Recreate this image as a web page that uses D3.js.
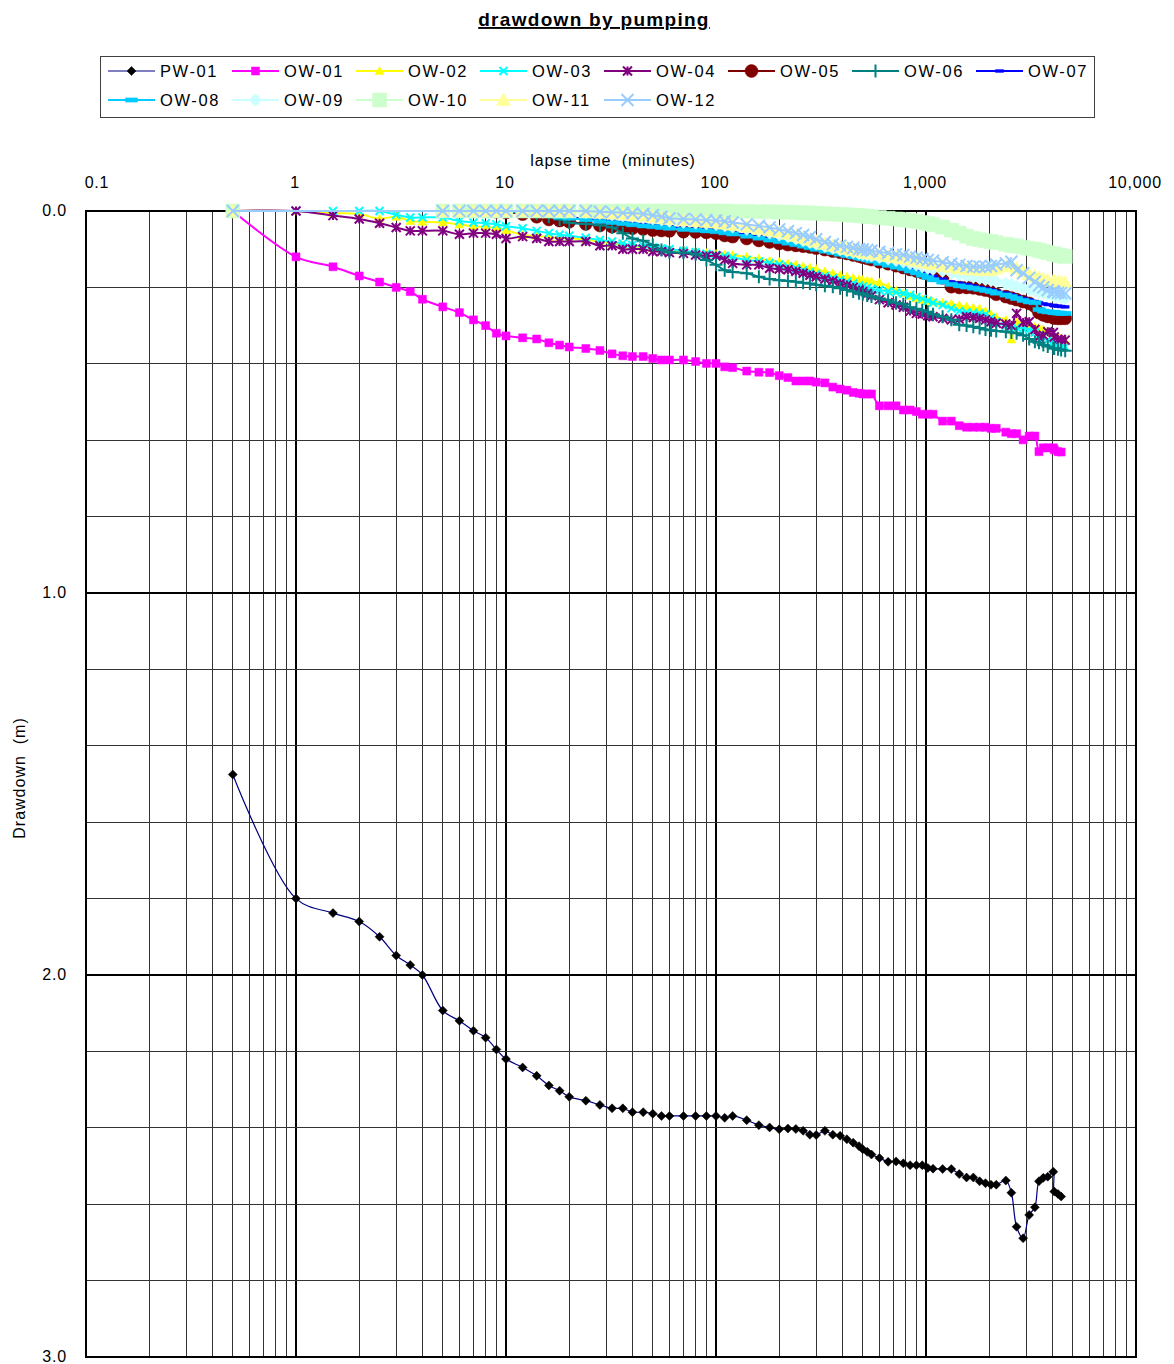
<!DOCTYPE html>
<html>
<head>
<meta charset="utf-8">
<script src="https://cdn.jsdelivr.net/npm/d3@7"></script>
<style>
  body { margin: 0; background: #fff; }
  svg text { font-family: "Liberation Sans", Arial, sans-serif; fill: #000; white-space: pre; }
</style>
</head>
<body>
<div id="chart"></div>
<script>
// lapse times (minutes), shared by all wells
const times = [
  0.5, 1, 1.5, 2, 2.5, 3, 3.5, 4, 5, 6,
  7, 8, 9, 10, 12, 14, 16, 18, 20, 24,
  28, 32, 36, 40, 45, 50, 55, 60, 70, 80,
  90, 100, 110, 120, 140, 160, 180, 200, 220, 240,
  260, 280, 300, 330, 360, 390, 420, 450, 480, 500,
  525, 550, 600, 660, 720, 780, 840, 900, 960, 1020,
  1080, 1200, 1320, 1440, 1560, 1680, 1800, 1920, 2040, 2160,
  2400, 2550, 2700, 2900, 3100, 3300, 3450, 3620, 3800, 4040,
  4080, 4250, 4400, 4600
];

// drawdown (m) per well, null = not measured
const pw01 = [
  1.475, 1.800, 1.838, 1.860, 1.900, 1.949, 1.974, 2.000, 2.093, 2.120,
  2.146, 2.164, 2.195, 2.220, 2.242, 2.264, 2.289, 2.303, 2.319, 2.329,
  2.340, 2.349, 2.349, 2.359, 2.359, 2.363, 2.369, 2.369, 2.369, 2.369,
  2.369, 2.369, 2.374, 2.369, 2.380, 2.393, 2.399, 2.404, 2.402, 2.403,
  2.408, 2.418, 2.419, 2.408, 2.418, 2.421, 2.430, 2.439, 2.448, 2.456,
  2.463, 2.470, 2.479, 2.489, 2.488, 2.493, 2.498, 2.498, 2.498, 2.505,
  2.507, 2.508, 2.508, 2.521, 2.530, 2.530, 2.540, 2.545, 2.549, 2.549,
  2.538, 2.570, 2.659, 2.689, 2.628, 2.608, 2.540, 2.531, 2.528, 2.515,
  2.567, 2.573, 2.580, null
];
const ow01 = [
  0.000, 0.120, 0.146, 0.170, 0.186, 0.200, 0.211, 0.231, 0.251, 0.266,
  0.285, 0.300, 0.320, 0.327, 0.332, 0.335, 0.345, 0.351, 0.356, 0.360,
  0.365, 0.374, 0.379, 0.381, 0.381, 0.386, 0.390, 0.390, 0.390, 0.394,
  0.399, 0.399, 0.408, 0.410, 0.419, 0.422, 0.423, 0.431, 0.436, 0.445,
  0.445, 0.445, 0.448, 0.450, 0.461, 0.466, 0.469, 0.475, 0.477, 0.479,
  0.479, 0.479, 0.510, 0.510, 0.510, 0.521, 0.521, 0.525, 0.532, 0.532,
  0.532, 0.550, 0.550, 0.562, 0.566, 0.566, 0.566, 0.566, 0.569, 0.569,
  0.579, 0.583, 0.583, 0.599, 0.589, 0.589, 0.630, 0.620, 0.620, 0.620,
  0.625, 0.630, 0.631, null
];
const ow02 = [
  0.000, 0.000, 0.005, 0.008, 0.020, 0.015, 0.026, 0.028, 0.030, 0.035,
  0.040, 0.042, 0.045, 0.050, 0.063, 0.065, 0.068, 0.070, 0.072, 0.075,
  0.080, 0.085, 0.090, 0.092, 0.095, 0.098, 0.100, 0.102, 0.105, 0.108,
  0.110, 0.112, 0.114, 0.115, 0.120, 0.125, 0.130, 0.133, 0.137, 0.140,
  0.145, 0.148, 0.152, 0.158, 0.163, 0.168, 0.172, 0.175, 0.178, 0.180,
  0.182, 0.184, 0.187, 0.198, 0.208, 0.215, 0.222, 0.228, 0.232, 0.235,
  0.237, 0.240, 0.243, 0.247, 0.250, 0.253, 0.255, 0.262, 0.270, 0.278,
  0.285, 0.336, 0.290, 0.296, 0.300, 0.303, 0.306, 0.310, 0.316, 0.320,
  0.325, 0.330, 0.333, 0.338
];
const ow03 = [
  0.000, 0.000, 0.000, 0.000, 0.000, 0.010, 0.017, 0.017, 0.017, 0.026,
  0.030, 0.032, 0.035, 0.040, 0.045, 0.052, 0.058, 0.062, 0.065, 0.070,
  0.076, 0.080, 0.085, 0.089, 0.092, 0.095, 0.098, 0.100, 0.104, 0.108,
  0.112, 0.115, 0.118, 0.122, 0.128, 0.132, 0.136, 0.140, 0.145, 0.150,
  0.155, 0.160, 0.165, 0.170, 0.176, 0.180, 0.185, 0.190, 0.195, 0.198,
  0.201, 0.204, 0.207, 0.210, 0.213, 0.216, 0.220, 0.225, 0.230, 0.235,
  0.240, 0.246, 0.255, 0.262, 0.265, 0.267, 0.268, 0.270, 0.280, 0.290,
  0.300, 0.303, 0.305, 0.308, 0.311, 0.318, 0.325, 0.330, 0.338, 0.342,
  0.346, 0.350, 0.353, 0.355
];
const ow04 = [
  0.000, 0.000, 0.012, 0.021, 0.032, 0.043, 0.052, 0.052, 0.052, 0.061,
  0.058, 0.058, 0.061, 0.072, 0.067, 0.072, 0.080, 0.080, 0.080, 0.080,
  0.091, 0.091, 0.100, 0.100, 0.100, 0.106, 0.106, 0.109, 0.111, 0.115,
  0.118, 0.118, 0.128, 0.137, 0.141, 0.141, 0.150, 0.152, 0.154, 0.158,
  0.163, 0.168, 0.172, 0.178, 0.183, 0.190, 0.194, 0.200, 0.207, 0.211,
  0.216, 0.222, 0.232, 0.240, 0.246, 0.252, 0.262, 0.268, 0.270, 0.274,
  0.277, 0.281, 0.285, 0.283, 0.277, 0.279, 0.281, 0.285, 0.290, 0.294,
  0.296, 0.300, 0.268, 0.292, 0.290, 0.310, 0.330, 0.325, 0.316, 0.318,
  0.330, 0.336, 0.336, 0.338
];
const ow05 = [
  0.000, null, null, null, null, null, null, null, 0.000, 0.000,
  0.000, 0.000, 0.002, 0.004, 0.008, 0.015, 0.022, 0.025, 0.028, 0.034,
  0.038, 0.041, 0.043, 0.045, 0.047, 0.050, 0.051, 0.052, 0.054, 0.055,
  0.056, 0.058, 0.064, 0.067, 0.072, 0.077, 0.081, 0.085, 0.088, 0.090,
  0.092, 0.094, 0.097, 0.101, 0.105, 0.108, 0.111, 0.115, 0.118, 0.121,
  0.124, 0.127, 0.133, 0.138, 0.143, 0.148, 0.153, 0.157, 0.161, 0.165,
  0.168, 0.175, 0.198, 0.200, 0.200, 0.201, 0.204, 0.207, 0.210, 0.218,
  0.224, 0.228, 0.232, 0.237, 0.242, 0.250, 0.266, 0.272, 0.276, 0.279,
  0.280, 0.281, 0.281, 0.281
];
const ow06 = [
  0.000, null, null, null, null, null, null, null, 0.000, 0.000,
  0.000, 0.000, 0.000, 0.000, 0.002, 0.008, 0.015, 0.022, 0.031, 0.034,
  0.037, 0.043, 0.058, 0.072, 0.078, 0.089, 0.102, 0.108, 0.109, 0.113,
  0.128, 0.141, 0.155, 0.160, 0.163, 0.172, 0.178, 0.181, 0.183, 0.185,
  0.188, 0.190, 0.193, 0.196, 0.198, 0.202, 0.207, 0.211, 0.215, 0.218,
  0.221, 0.224, 0.229, 0.233, 0.240, 0.244, 0.252, 0.256, 0.260, 0.264,
  0.270, 0.277, 0.285, 0.298, 0.300, 0.303, 0.306, 0.310, 0.312, 0.314,
  0.316, 0.318, 0.320, 0.325, 0.335, 0.342, 0.345, 0.351, 0.355, 0.359,
  0.360, 0.362, 0.364, 0.366
];
const ow07 = [
  0.000, null, null, null, null, null, null, null, 0.000, 0.000,
  0.000, 0.000, 0.000, 0.000, 0.003, 0.006, 0.010, 0.013, 0.016, 0.020,
  0.024, 0.027, 0.030, 0.033, 0.036, 0.038, 0.040, 0.042, 0.045, 0.047,
  0.049, 0.051, 0.054, 0.057, 0.062, 0.067, 0.072, 0.076, 0.080, 0.084,
  0.088, 0.092, 0.095, 0.100, 0.104, 0.108, 0.112, 0.115, 0.118, 0.120,
  0.123, 0.126, 0.131, 0.137, 0.142, 0.146, 0.151, 0.156, 0.161, 0.166,
  0.171, 0.178, 0.186, 0.189, 0.192, 0.196, 0.200, 0.203, 0.206, 0.210,
  0.215, 0.219, 0.224, 0.229, 0.233, 0.237, 0.240, 0.243, 0.245, 0.247,
  0.248, 0.249, 0.250, 0.251
];
const ow08 = [
  0.000, null, null, null, null, null, null, null, 0.000, 0.000,
  0.000, 0.000, 0.000, 0.000, 0.004, 0.008, 0.012, 0.016, 0.019, 0.023,
  0.027, 0.030, 0.033, 0.036, 0.039, 0.041, 0.043, 0.045, 0.048, 0.050,
  0.052, 0.054, 0.057, 0.060, 0.066, 0.071, 0.076, 0.080, 0.084, 0.088,
  0.092, 0.096, 0.100, 0.105, 0.109, 0.113, 0.117, 0.120, 0.123, 0.125,
  0.128, 0.131, 0.137, 0.142, 0.147, 0.151, 0.157, 0.162, 0.168, 0.174,
  0.180, 0.186, 0.192, 0.196, 0.199, 0.202, 0.205, 0.208, 0.211, 0.215,
  0.220, 0.224, 0.229, 0.234, 0.238, 0.240, 0.258, 0.262, 0.264, 0.265,
  0.266, 0.267, 0.268, 0.268
];
const ow09 = [
  0.000, null, null, null, null, null, null, null, 0.000, 0.000,
  0.000, 0.000, 0.000, 0.000, 0.000, 0.000, 0.000, 0.000, 0.000, 0.003,
  0.006, 0.009, 0.012, 0.014, 0.017, 0.020, 0.023, 0.026, 0.029, 0.031,
  0.033, 0.035, 0.038, 0.041, 0.047, 0.052, 0.057, 0.062, 0.067, 0.072,
  0.077, 0.082, 0.086, 0.092, 0.097, 0.101, 0.105, 0.108, 0.111, 0.113,
  0.115, 0.117, 0.121, 0.125, 0.129, 0.133, 0.137, 0.141, 0.145, 0.149,
  0.152, 0.157, 0.162, 0.166, 0.170, 0.173, 0.176, 0.179, 0.182, 0.185,
  0.190, 0.193, 0.197, 0.201, 0.205, 0.209, 0.212, 0.215, 0.218, 0.221,
  0.222, 0.224, 0.226, 0.228
];
const ow10 = [
  0.000, null, null, null, null, null, null, null, 0.000, 0.000,
  0.000, 0.000, 0.000, 0.000, 0.000, 0.000, 0.000, 0.000, 0.000, 0.000,
  0.000, 0.000, 0.000, 0.000, 0.000, 0.000, 0.000, 0.000, 0.000, 0.000,
  0.000, 0.000, 0.000, 0.001, 0.001, 0.002, 0.002, 0.003, 0.003, 0.004,
  0.005, 0.005, 0.006, 0.007, 0.008, 0.009, 0.010, 0.011, 0.012, 0.013,
  0.014, 0.015, 0.017, 0.019, 0.021, 0.023, 0.025, 0.027, 0.030, 0.033,
  0.036, 0.042, 0.050, 0.058, 0.066, 0.072, 0.075, 0.078, 0.080, 0.083,
  0.087, 0.090, 0.092, 0.095, 0.098, 0.100, 0.103, 0.106, 0.109, 0.112,
  0.113, 0.115, 0.117, 0.119
];
const ow11 = [
  0.000, null, null, null, null, null, null, null, 0.000, 0.000,
  0.000, 0.000, 0.000, 0.000, 0.000, 0.000, 0.000, 0.000, 0.000, 0.002,
  0.004, 0.006, 0.008, 0.010, 0.012, 0.015, 0.018, 0.021, 0.024, 0.026,
  0.028, 0.030, 0.033, 0.036, 0.041, 0.046, 0.050, 0.055, 0.060, 0.065,
  0.070, 0.075, 0.080, 0.086, 0.091, 0.095, 0.099, 0.102, 0.105, 0.107,
  0.109, 0.111, 0.114, 0.118, 0.121, 0.124, 0.127, 0.130, 0.133, 0.136,
  0.139, 0.143, 0.147, 0.150, 0.152, 0.153, 0.154, 0.155, 0.154, 0.150,
  0.145, 0.142, 0.150, 0.158, 0.165, 0.170, 0.175, 0.178, 0.181, 0.183,
  0.184, 0.185, 0.186, 0.187
];
const ow12 = [
  0.000, null, null, null, null, null, null, null, 0.000, 0.000,
  0.000, 0.000, 0.000, 0.000, 0.000, 0.000, 0.000, 0.000, 0.000, 0.000,
  0.002, 0.003, 0.005, 0.006, 0.008, 0.011, 0.015, 0.019, 0.021, 0.022,
  0.024, 0.025, 0.027, 0.030, 0.035, 0.039, 0.043, 0.048, 0.053, 0.058,
  0.063, 0.068, 0.074, 0.081, 0.087, 0.091, 0.094, 0.097, 0.100, 0.101,
  0.102, 0.104, 0.107, 0.110, 0.113, 0.115, 0.119, 0.122, 0.125, 0.128,
  0.130, 0.134, 0.138, 0.141, 0.144, 0.146, 0.146, 0.146, 0.144, 0.140,
  0.137, 0.133, 0.155, 0.163, 0.175, 0.185, 0.195, 0.200, 0.207, 0.210,
  0.212, 0.214, 0.215, 0.216
];

const seriesNames = ["PW-01", "OW-01", "OW-02", "OW-03", "OW-04", "OW-05", "OW-06",
                     "OW-07", "OW-08", "OW-09", "OW-10", "OW-11", "OW-12"];
const seriesValues = [pw01, ow01, ow02, ow03, ow04, ow05, ow06, ow07, ow08, ow09, ow10, ow11, ow12];

// axis ticks
const xTickValues = [0.1, 1, 10, 100, 1000, 10000];
const xTickLabels = ["0.1", "1", "10", "100", "1,000", "10,000"];
const yTickValues = [0, 1, 2, 3];
const yTickLabels = ["0.0", "1.0", "2.0", "3.0"];

// look of each series (Excel-like markers)
const styles = {
  "PW-01": { color: "#000080", width: 1.2, marker: "diamond", mcolor: "#000000", size: 4.5 },
  "OW-01": { color: "#FF00FF", width: 2, marker: "square", mcolor: "#FF00FF", size: 4 },
  "OW-02": { color: "#FFFF00", width: 2, marker: "triangle", mcolor: "#FFFF00", size: 4.5 },
  "OW-03": { color: "#00FFFF", width: 2, marker: "x", mcolor: "#00FFFF", size: 4 },
  "OW-04": { color: "#800080", width: 2, marker: "star", mcolor: "#800080", size: 4.5 },
  "OW-05": { color: "#800000", width: 2, marker: "circle", mcolor: "#800000", size: 6.5 },
  "OW-06": { color: "#008080", width: 2, marker: "plus", mcolor: "#008080", size: 6.5 },
  "OW-07": { color: "#0000FF", width: 2, marker: "dash", mcolor: "#0000FF", size: 4 },
  "OW-08": { color: "#00CCFF", width: 2, marker: "dash", mcolor: "#00CCFF", size: 6 },
  "OW-09": { color: "#CCFFFF", width: 2, marker: "diamond", mcolor: "#CCFFFF", size: 6.5 },
  "OW-10": { color: "#CCFFCC", width: 2, marker: "square", mcolor: "#CCFFCC", size: 7 },
  "OW-11": { color: "#FFFF99", width: 2, marker: "triangle", mcolor: "#FFFF99", size: 7 },
  "OW-12": { color: "#99CCFF", width: 2, marker: "x", mcolor: "#99CCFF", size: 6 }
};
const strokeMarkers = ["x", "star", "plus"];

function markerPath(shape, h) {
  switch (shape) {
    case "diamond": return `M0,${-h}L${h},0L0,${h}L${-h},0Z`;
    case "square": return `M${-h},${-h}H${h}V${h}H${-h}Z`;
    case "triangle": return `M0,${-h}L${h},${h * 0.8}L${-h},${h * 0.8}Z`;
    case "x": return `M${-h},${-h}L${h},${h}M${-h},${h}L${h},${-h}`;
    case "star": return `M${-h},${-h}L${h},${h}M${-h},${h}L${h},${-h}M0,${-h}L0,${h}`;
    case "plus": return `M${-h},0H${h}M0,${-h}V${h}`;
    case "dash": return `M${-h},${-h * 0.35}H${h}V${h * 0.35}H${-h}Z`;
    case "circle": return `M${-h},0A${h},${h} 0 1,0 ${h},0A${h},${h} 0 1,0 ${-h},0Z`;
  }
}

function drawMarker(sel, st) {
  const isStroke = strokeMarkers.includes(st.marker);
  return sel.append("path")
    .attr("d", markerPath(st.marker, st.size))
    .attr("fill", isStroke ? "none" : st.mcolor)
    .attr("stroke", st.mcolor)
    .attr("stroke-width", isStroke ? 2 : 0.5);
}

const W = 1174, H = 1364;
const plot = { left: 86, right: 1136, top: 211, bottom: 1357 };

const svg = d3.select("#chart").append("svg")
  .attr("width", W)
  .attr("height", H);

const x = d3.scaleLog().domain([0.1, 10000]).range([plot.left, plot.right]);
const y = d3.scaleLinear().domain([0, 3]).range([plot.top, plot.bottom]);

// 1. Title
svg.append("text")
  .attr("x", 594).attr("y", 26)
  .attr("text-anchor", "middle")
  .style("font-size", "19px")
  .style("font-weight", "bold")
  .style("text-decoration", "underline")
  .style("letter-spacing", "1.3px")
  .text("drawdown by pumping");

// 2. Legend
svg.append("rect")
  .attr("x", 100.5).attr("y", 56.5)
  .attr("width", 994).attr("height", 61)
  .attr("fill", "#fff")
  .attr("stroke", "#404040");

seriesNames.forEach((name, i) => {
  const st = styles[name];
  const col = i < 8 ? i : i - 8;
  const x0 = 108 + col * 124;
  const ly = i < 8 ? 71 : 100;
  const g = svg.append("g");
  g.append("line")
    .attr("x1", x0).attr("x2", x0 + 47)
    .attr("y1", ly).attr("y2", ly)
    .attr("stroke", st.color)
    .attr("stroke-width", st.width);
  drawMarker(g.append("g").attr("transform", `translate(${x0 + 23.5},${ly})`), st);
  g.append("text")
    .attr("x", x0 + 52).attr("y", ly + 6)
    .style("font-size", "16.5px")
    .style("letter-spacing", "1.6px")
    .text(name);
});

// 3. Gridlines
const grid = svg.append("g").attr("shape-rendering", "crispEdges");
x.ticks().forEach(v => {
  const major = Math.abs(Math.log10(v) - Math.round(Math.log10(v))) < 1e-9;
  grid.append("line")
    .attr("x1", x(v)).attr("x2", x(v))
    .attr("y1", plot.top).attr("y2", plot.bottom)
    .attr("stroke", major ? "#000" : "#333")
    .attr("stroke-width", major ? 2 : 1);
});
y.ticks(15).forEach(v => {
  const major = Math.abs(v - Math.round(v)) < 1e-9;
  grid.append("line")
    .attr("x1", plot.left).attr("x2", plot.right)
    .attr("y1", y(v)).attr("y2", y(v))
    .attr("stroke", major ? "#000" : "#333")
    .attr("stroke-width", major ? 2 : 1);
});
grid.append("rect")
  .attr("x", plot.left).attr("y", plot.top)
  .attr("width", plot.right - plot.left)
  .attr("height", plot.bottom - plot.top)
  .attr("fill", "none")
  .attr("stroke", "#000")
  .attr("stroke-width", 2);

// 4. Axis labels (x on top, y on left)
svg.append("g").selectAll("text")
  .data(xTickValues)
  .enter().append("text")
  .attr("x", (d, i) => x(d) + (i === 0 ? 11 : -1))
  .attr("y", 188)
  .attr("text-anchor", "middle")
  .style("font-size", "16px")
  .style("letter-spacing", "0.8px")
  .text((d, i) => xTickLabels[i]);

svg.append("text")
  .attr("x", 613).attr("y", 166)
  .attr("text-anchor", "middle")
  .style("font-size", "16px")
  .style("letter-spacing", "0.8px")
  .text("lapse time  (minutes)");

svg.append("g").selectAll("text")
  .data(yTickValues)
  .enter().append("text")
  .attr("x", 67)
  .attr("y", d => y(d) + 5)
  .attr("text-anchor", "end")
  .style("font-size", "16px")
  .style("letter-spacing", "0.8px")
  .text((d, i) => yTickLabels[i]);

svg.append("text")
  .attr("transform", "translate(25,778) rotate(-90)")
  .attr("text-anchor", "middle")
  .style("font-size", "16px")
  .style("letter-spacing", "1px")
  .text("Drawdown  (m)");

// 5. Series: smoothed line then markers
const line = d3.line()
  .x(d => x(d.t))
  .y(d => y(d.v))
  .curve(d3.curveCatmullRom.alpha(0.5));

seriesNames.forEach((name, i) => {
  const st = styles[name];
  const pts = times
    .map((t, k) => ({ t: t, v: seriesValues[i][k] }))
    .filter(d => d.v !== null && d.v !== undefined);

  const g = svg.append("g");
  g.append("path")
    .datum(pts)
    .attr("d", line)
    .attr("fill", "none")
    .attr("stroke", st.color)
    .attr("stroke-width", st.width);

  g.selectAll("g.m")
    .data(pts)
    .enter()
    .append("g")
    .attr("class", "m")
    .attr("transform", d => `translate(${x(d.t)},${y(d.v)})`)
    .each(function () { drawMarker(d3.select(this), st); });
});
</script>
</body>
</html>
